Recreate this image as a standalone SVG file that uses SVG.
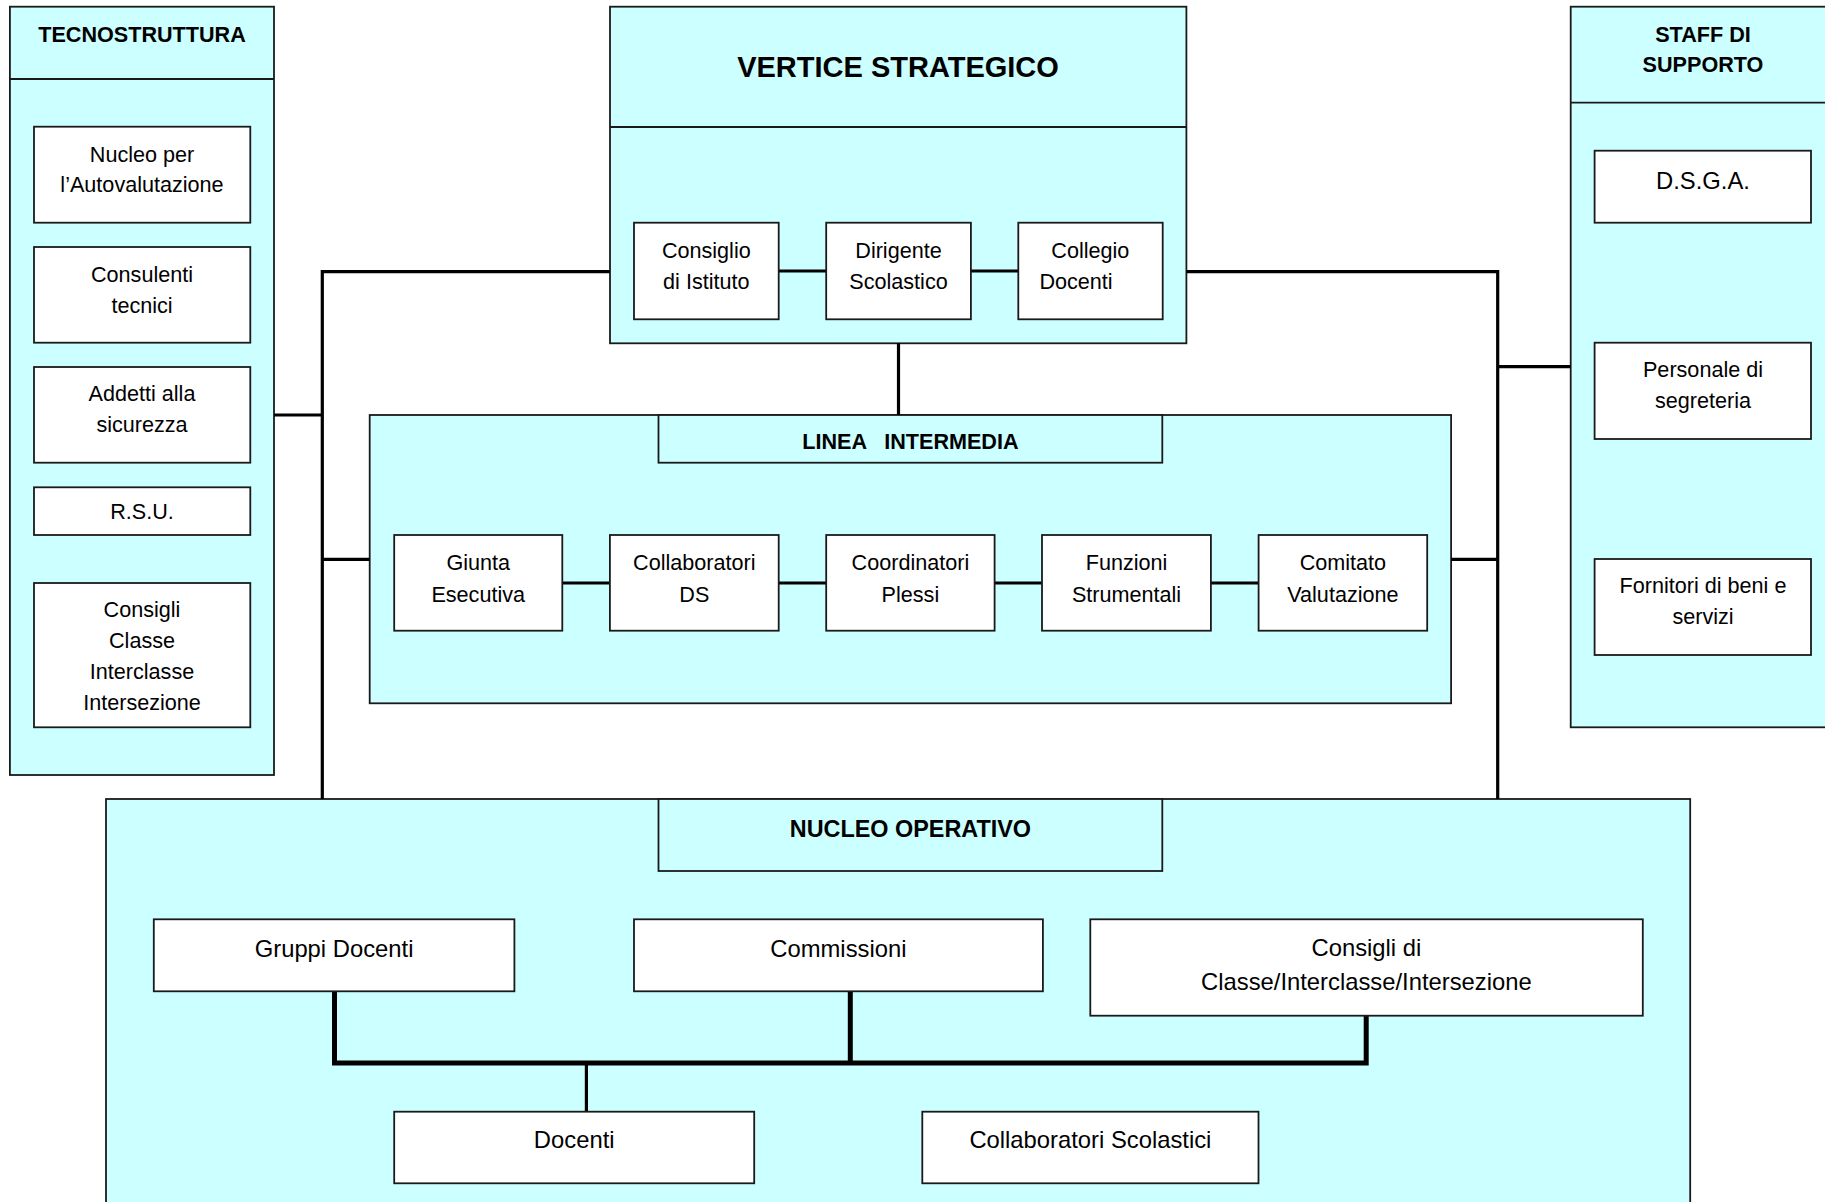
<svg xmlns="http://www.w3.org/2000/svg" width="1825" height="1202" viewBox="0 0 1825 1202">
<style>
.bg{fill:#ffffff}
.cont{fill:#ccffff;stroke:#1a1a1a;stroke-width:1.8}
.hdr{fill:#ccffff;stroke:#1a1a1a;stroke-width:1.8}
.box{fill:#ffffff;stroke:#1a1a1a;stroke-width:1.8}
.div{stroke:#1a1a1a;stroke-width:1.8}
.ln{fill:none;stroke:#000;stroke-width:3.2}
.thick{fill:none;stroke:#000;stroke-width:5}
text{font-family:"Liberation Sans",Arial,sans-serif;fill:#000;text-anchor:middle}
.t{font-size:21.6px}
.tn{font-size:23.8px}
.b{font-weight:bold;font-size:21.6px}
.bv{font-weight:bold;font-size:29px}
.bn{font-weight:bold;font-size:23.4px}
</style>
<rect class="bg" x="0" y="0" width="1825" height="1202"/>

<g id="tecnostruttura">
<rect class="cont" x="9.9" y="6.7" width="264.1" height="768.3"/>
<line class="div" x1="9.9" y1="79" x2="274" y2="79"/>
<text class="b" x="142" y="41.7">TECNOSTRUTTURA</text>
</g>
<g id="vertice-strategico">
<rect class="cont" x="610" y="6.7" width="576.4" height="336.6"/>
<line class="div" x1="610" y1="127" x2="1186.4" y2="127"/>
<text class="bv" x="898" y="76.7">VERTICE STRATEGICO</text>
</g>
<g id="staff-di-supporto">
<rect class="cont" x="1570.7" y="6.7" width="265" height="720.6"/>
<line class="div" x1="1570.7" y1="102.7" x2="1835" y2="102.7"/>
<text class="b" x="1703" y="41.7">STAFF DI</text>
<text class="b" x="1703" y="71.7">SUPPORTO</text>
</g>
<g id="linea-intermedia">
<rect class="cont" x="369.7" y="415" width="1081.4" height="288.3"/>
<rect class="hdr" x="658.5" y="415" width="503.8" height="47.7"/>
<text class="b" x="910.4" y="449.3" xml:space="preserve">LINEA   INTERMEDIA</text>
</g>
<g id="nucleo-operativo">
<rect class="cont" x="106" y="799" width="1584.2" height="420"/>
<rect class="hdr" x="658.5" y="799" width="503.8" height="72"/>
<text class="bn" x="910.4" y="836.7">NUCLEO OPERATIVO</text>
</g>

<g id="connectors">
<path class="ln" d="M610,271.7 H322.3 V799"/>
<path class="ln" d="M274,415 H322.3"/>
<path class="ln" d="M322.3,559.3 H369.7"/>
<path class="ln" d="M1186.4,271.7 H1497.7 V799"/>
<path class="ln" d="M1497.7,366.7 H1570.7"/>
<path class="ln" d="M1451.1,559.3 H1497.7"/>
<path class="ln" d="M898.5,343.3 V415"/>
<path class="ln" d="M778.7,271 H826.2 M970.9,271 H1018.3"/>
<path class="ln" d="M562.3,583 H609.9 M778.7,583 H826.2 M994.6,583 H1042 M1210.9,583 H1258.6"/>
<path class="thick" d="M334.5,991.3 V1063 H1366.2 V1015.7"/>
<path class="thick" d="M850.3,991.3 V1063"/>
<path class="ln" d="M586.4,1063 V1111.7"/>
</g>

<g id="nucleo-autovalutazione">
<rect class="box" x="34" y="126.7" width="216.3" height="96"/>
<text class="t" x="142" y="161.7">Nucleo per</text>
<text class="t" x="142" y="191.7">l’Autovalutazione</text>
</g>
<g id="consulenti-tecnici">
<rect class="box" x="34" y="247" width="216.3" height="95.7"/>
<text class="t" x="142" y="282">Consulenti</text>
<text class="t" x="142" y="313">tecnici</text>
</g>
<g id="addetti-sicurezza">
<rect class="box" x="34" y="367" width="216.3" height="95.7"/>
<text class="t" x="142" y="401">Addetti alla</text>
<text class="t" x="142" y="432">sicurezza</text>
</g>
<g id="rsu">
<rect class="box" x="34" y="487.3" width="216.3" height="47.7"/>
<text class="t" x="142" y="519">R.S.U.</text>
</g>
<g id="consigli-tecno">
<rect class="box" x="34" y="583" width="216.3" height="144.3"/>
<text class="t" x="142" y="617.3">Consigli</text>
<text class="t" x="142" y="648.3">Classe</text>
<text class="t" x="142" y="679.3">Interclasse</text>
<text class="t" x="142" y="710">Intersezione</text>
</g>

<g id="consiglio-istituto">
<rect class="box" x="634" y="222.7" width="144.7" height="96.6"/>
<text class="t" x="706.3" y="258.3">Consiglio</text>
<text class="t" x="706.3" y="289.3">di Istituto</text>
</g>
<g id="dirigente-scolastico">
<rect class="box" x="826.2" y="222.7" width="144.7" height="96.6"/>
<text class="t" x="898.5" y="258.3">Dirigente</text>
<text class="t" x="898.5" y="289.3">Scolastico</text>
</g>
<g id="collegio-docenti">
<rect class="box" x="1018.3" y="222.7" width="144.4" height="96.6"/>
<text class="t" x="1090.3" y="258.3">Collegio</text>
<text class="t" x="1076" y="289.3">Docenti</text>
</g>

<g id="giunta-esecutiva">
<rect class="box" x="394.2" y="535" width="168.1" height="95.7"/>
<text class="t" x="478.2" y="570">Giunta</text>
<text class="t" x="478.2" y="601.7">Esecutiva</text>
</g>
<g id="collaboratori-ds">
<rect class="box" x="609.9" y="535" width="168.8" height="95.7"/>
<text class="t" x="694.3" y="570">Collaboratori</text>
<text class="t" x="694.3" y="601.7">DS</text>
</g>
<g id="coordinatori-plessi">
<rect class="box" x="826.2" y="535" width="168.4" height="95.7"/>
<text class="t" x="910.4" y="570">Coordinatori</text>
<text class="t" x="910.4" y="601.7">Plessi</text>
</g>
<g id="funzioni-strumentali">
<rect class="box" x="1042" y="535" width="168.9" height="95.7"/>
<text class="t" x="1126.5" y="570">Funzioni</text>
<text class="t" x="1126.5" y="601.7">Strumentali</text>
</g>
<g id="comitato-valutazione">
<rect class="box" x="1258.6" y="535" width="168.6" height="95.7"/>
<text class="t" x="1342.9" y="570">Comitato</text>
<text class="t" x="1342.9" y="601.7">Valutazione</text>
</g>

<g id="dsga">
<rect class="box" x="1594.6" y="150.7" width="216.4" height="72"/>
<text class="tn" x="1703" y="189.3">D.S.G.A.</text>
</g>
<g id="personale-segreteria">
<rect class="box" x="1594.6" y="342.7" width="216.4" height="96.3"/>
<text class="t" x="1703" y="376.7">Personale di</text>
<text class="t" x="1703" y="408.3">segreteria</text>
</g>
<g id="fornitori">
<rect class="box" x="1594.6" y="559" width="216.4" height="96"/>
<text class="t" x="1703" y="593.3">Fornitori di beni e</text>
<text class="t" x="1703" y="624">servizi</text>
</g>

<g id="gruppi-docenti">
<rect class="box" x="153.8" y="919.3" width="360.6" height="72"/>
<text class="tn" x="334.1" y="956.7">Gruppi Docenti</text>
</g>
<g id="commissioni">
<rect class="box" x="634" y="919.3" width="408.9" height="72"/>
<text class="tn" x="838.4" y="956.7">Commissioni</text>
</g>
<g id="consigli-classe">
<rect class="box" x="1090.3" y="919.3" width="552.5" height="96.4"/>
<text class="tn" x="1366.4" y="955.7">Consigli di</text>
<text class="tn" x="1366.4" y="990">Classe/Interclasse/Intersezione</text>
</g>
<g id="docenti">
<rect class="box" x="394.2" y="1111.7" width="360" height="71.6"/>
<text class="tn" x="574.2" y="1148.3">Docenti</text>
</g>
<g id="collaboratori-scolastici">
<rect class="box" x="922.3" y="1111.7" width="336.2" height="71.6"/>
<text class="tn" x="1090.4" y="1148.3">Collaboratori Scolastici</text>
</g>
</svg>
